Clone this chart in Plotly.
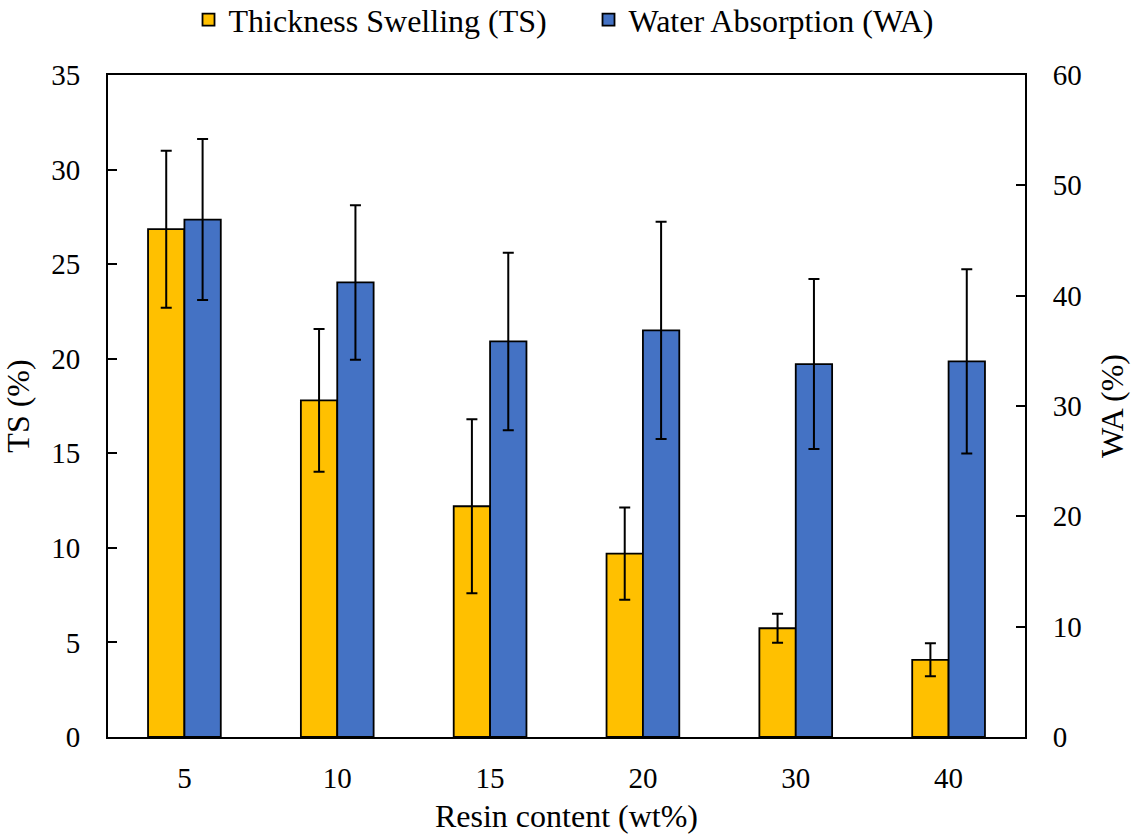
import plotly.graph_objects as go

# Resin content categories (wt%)
resin_content = ["5", "10", "15", "20", "30", "40"]

# Thickness swelling (%) with standard deviations
ts_values = [26.85, 17.8, 12.2, 9.7, 5.75, 4.08]
ts_errors = [4.15, 3.77, 4.6, 2.44, 0.77, 0.87]

# Water absorption (%) with standard deviations
wa_values = [46.9, 41.2, 35.85, 36.85, 33.8, 34.05]
wa_errors = [7.3, 7.0, 8.05, 9.85, 7.7, 8.35]

FONT = "Liberation Serif"
TICK_FONT = dict(family=FONT, size=29, color="black")
TITLE_FONT = dict(family=FONT, size=32, color="black")
BAR_W = 0.238

fig = go.Figure()

fig.add_trace(go.Bar(
    x=resin_content, y=ts_values, name="Thickness Swelling (TS)",
    marker=dict(color="#FFC000", line=dict(color="black", width=1.8)),
    width=BAR_W, offset=-BAR_W,
    error_y=dict(type="data", array=ts_errors, visible=True,
                 color="black", thickness=2, width=5.5),
    yaxis="y",
))

fig.add_trace(go.Bar(
    x=resin_content, y=wa_values, name="Water Absorption (WA)",
    marker=dict(color="#4472C4", line=dict(color="black", width=1.8)),
    width=BAR_W, offset=0,
    error_y=dict(type="data", array=wa_errors, visible=True,
                 color="black", thickness=2, width=5.5),
    yaxis="y2",
))

fig.update_layout(
    width=1134, height=839,
    margin=dict(l=108, r=109, t=75, b=102, autoexpand=False),
    paper_bgcolor="white", plot_bgcolor="white",
    font=TICK_FONT,
    barmode="overlay",
    showlegend=True,
    legend=dict(orientation="h", x=0.524, xanchor="center",
                y=1.125, yanchor="top",
                font=TITLE_FONT, tracegroupgap=0,
                entrywidth=355, entrywidthmode="pixels",
                bgcolor="rgba(0,0,0,0)"),
    xaxis=dict(
        type="category", showline=True, linecolor="black", linewidth=2,
        mirror=True, ticks="", showgrid=False, zeroline=False,
        tickfont=TICK_FONT, automargin=False,
        title=dict(text="Resin content (wt%)", font=TITLE_FONT, standoff=12),
        ticklabelstandoff=14,
    ),
    yaxis=dict(
        range=[0, 35], dtick=5, showline=True, linecolor="black", linewidth=2,
        ticks="inside", ticklen=9, tickwidth=2, tickcolor="black",
        showgrid=False, zeroline=False, tickfont=TICK_FONT, automargin=False,
        title=dict(text="TS (%)", font=TITLE_FONT, standoff=12),
        ticklabelstandoff=20,
    ),
    yaxis2=dict(
        range=[0, 60], dtick=10, overlaying="y", side="right",
        showline=True, linecolor="black", linewidth=2,
        ticks="inside", ticklen=9, tickwidth=2, tickcolor="black",
        showgrid=False, zeroline=False, tickfont=TICK_FONT, automargin=False,
        title=dict(text="WA (%)", font=TITLE_FONT, standoff=20),
        ticklabelstandoff=20,
    ),
)

fig.write_html("out.html")
